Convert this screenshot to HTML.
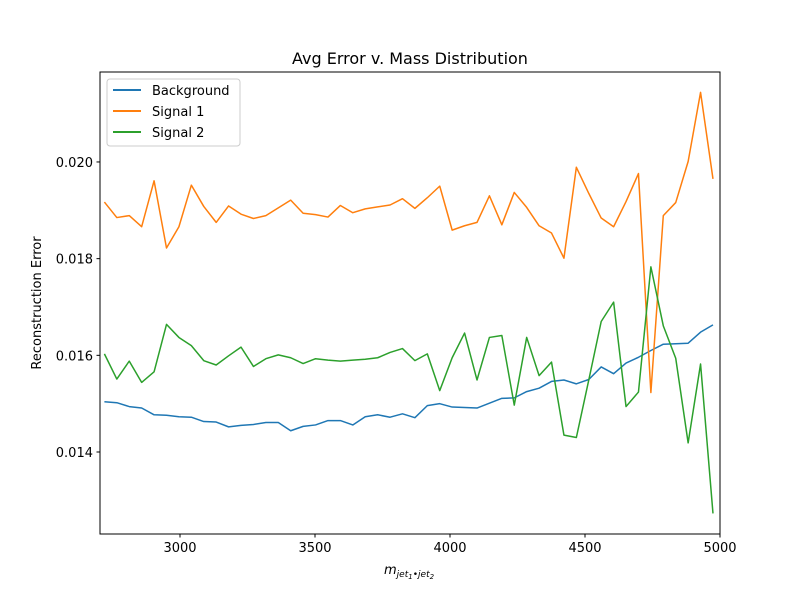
<!DOCTYPE html>
<html><head><meta charset="utf-8"><style>
body{margin:0;background:#fff;}
svg{display:block;font-family:"DejaVu Sans","Liberation Sans",sans-serif;}
</style></head><body>
<svg id="chart" width="800" height="600" xmlns="http://www.w3.org/2000/svg">
<rect width="800" height="600" fill="#fff"/>
<text x="410" y="64" font-size="16" text-anchor="middle">Avg Error v. Mass Distribution</text>
<g id="plot"></g>
<text transform="translate(41,303) rotate(-90)" font-size="13" text-anchor="middle">Reconstruction Error</text>
<text x="384" y="574" font-size="13" font-style="italic">m<tspan font-size="9" dy="3">jet</tspan><tspan font-size="7" dy="2">1</tspan><tspan font-size="9" dy="-2">•jet</tspan><tspan font-size="7" dy="2">2</tspan></text>
<g>
<rect x="107" y="79" width="133" height="67" rx="3" fill="#fff" stroke="#ccc" stroke-width="1"/>
<g><line x1="113" y1="90" x2="141" y2="90" stroke="#1f77b4" stroke-width="2"/><text x="152" y="95" font-size="13">Background</text></g>
<g><line x1="113" y1="111" x2="141" y2="111" stroke="#ff7f0e" stroke-width="2"/><text x="152" y="116" font-size="13">Signal 1</text></g>
<g><line x1="113" y1="132" x2="141" y2="132" stroke="#2ca02c" stroke-width="2"/><text x="152" y="137" font-size="13">Signal 2</text></g>
</g>
</svg>
<script>
const masses = Array.from({length:50},(_, i)=>2720+i*46);
const background = [0.01504,0.01502,0.01494,0.01491,0.01477,0.01476,0.01473,0.01472,0.01463,0.01462,0.01452,0.01455,0.01457,0.01461,0.01461,0.01444,0.01453,0.01456,0.01465,0.01465,0.01456,0.01473,0.01477,0.01472,0.01479,0.01471,0.01496,0.01500,0.01493,0.01492,0.01491,0.01501,0.01511,0.01512,0.01525,0.01532,0.01546,0.01549,0.01541,0.01550,0.01576,0.01562,0.01584,0.01596,0.01610,0.01623,0.01624,0.01625,0.01648,0.01663];
const signal1 = [0.01917,0.01885,0.01889,0.01866,0.01961,0.01822,0.01866,0.01952,0.01908,0.01875,0.01909,0.01892,0.01883,0.01889,0.01905,0.01921,0.01894,0.01891,0.01886,0.01910,0.01895,0.01903,0.01907,0.01911,0.01924,0.01904,0.01926,0.01950,0.01859,0.01868,0.01875,0.01930,0.01870,0.01937,0.01906,0.01868,0.01853,0.01801,0.01989,0.01935,0.01884,0.01866,0.01918,0.01976,0.01523,0.01889,0.01916,0.02001,0.02144,0.01965];
const signal2 = [0.01603,0.01551,0.01588,0.01544,0.01566,0.01664,0.01637,0.01620,0.01589,0.01580,0.01599,0.01617,0.01577,0.01593,0.01601,0.01595,0.01583,0.01593,0.01590,0.01588,0.01590,0.01592,0.01595,0.01606,0.01614,0.01589,0.01603,0.01527,0.01595,0.01646,0.01549,0.01637,0.01641,0.01497,0.01637,0.01558,0.01586,0.01435,0.01430,0.01549,0.01670,0.01710,0.01494,0.01524,0.01783,0.01661,0.01594,0.01419,0.01582,0.01273];
const xTicks = [3000,3500,4000,4500,5000];
const yTicks = [0.014,0.016,0.018,0.020];

const L=100,R=720,T=72,B=534;
const xMin=2703.7,xMax=5000,yMin=0.012304,yMax=0.021861;
const sx=v=>L+(v-xMin)/(xMax-xMin)*(R-L);
const sy=v=>B-(v-yMin)/(yMax-yMin)*(B-T);
const NS="http://www.w3.org/2000/svg";
const g=document.getElementById('plot');
function mk(tag,attrs){const e=document.createElementNS(NS,tag);for(const k in attrs)e.setAttribute(k,attrs[k]);g.appendChild(e);return e;}

const series=[[background,'#1f77b4','line-background'],[signal1,'#ff7f0e','line-signal-1'],[signal2,'#2ca02c','line-signal-2']];
series.forEach(([vals,col,name])=>{
  const p=mk('polyline',{points:vals.map((v,i)=>sx(masses[i]).toFixed(2)+','+sy(v).toFixed(2)).join(' '),fill:'none',stroke:col,'stroke-width':1.5,'stroke-linejoin':'round'});
  
  
});
const frame=mk('rect',{x:L,y:T,width:R-L,height:B-T,fill:'none',stroke:'#000','stroke-width':1});


xTicks.forEach(t=>{
  const x=sx(t);
  mk('line',{x1:x,y1:B,x2:x,y2:B+3.5,stroke:'#000'});
  const tx=mk('text',{x:x,y:B+18,'font-size':13,'text-anchor':'middle'});
  tx.textContent=t;
  
  
});
yTicks.forEach(t=>{
  const y=sy(t);
  mk('line',{x1:L-3.5,y1:y,x2:L,y2:y,stroke:'#000'});
  const tx=mk('text',{x:L-7,y:y+5,'font-size':13,'text-anchor':'end'});
  tx.textContent=t.toFixed(3);
  
  
});
</script>
</body></html>
